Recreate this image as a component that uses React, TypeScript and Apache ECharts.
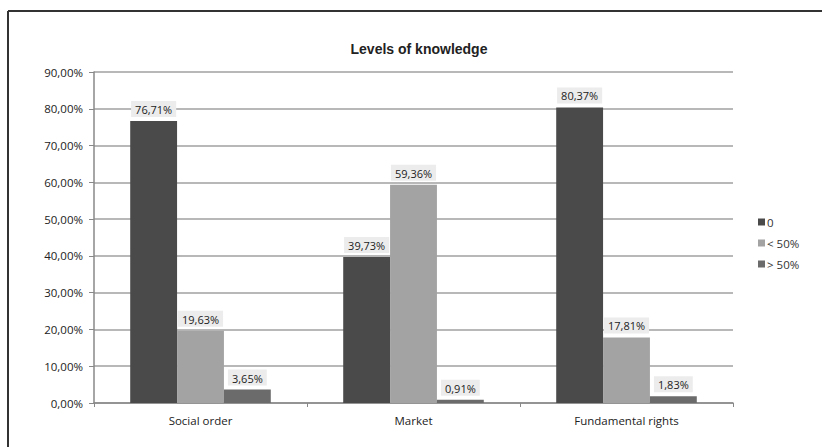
import React, { useEffect, useRef } from "react";
import * as echarts from "echarts";

const categories = ["Social order", "Market", "Fundamental rights"];
const seriesNames = ["0", "< 50%", "> 50%"];
const zeroValues = [76.71, 39.73, 80.37];
const lessHalfValues = [19.63, 59.36, 17.81];
const moreHalfValues = [3.65, 0.91, 1.83];
const colors = ["#4a4a4a", "#a3a3a3", "#6b6b6b"];

const fmt = (v: number) => v.toFixed(2).replace(".", ",") + "%";
const FONT = "Open Sans";

export default function App() {
  const ref = useRef<HTMLDivElement>(null);
  useEffect(() => {
    if (!ref.current) return;
    const chart = echarts.init(ref.current, undefined, { renderer: "svg" });
    const data = [zeroValues, lessHalfValues, moreHalfValues];
    chart.setOption({
      animation: false,
      backgroundColor: "#ffffff",
      textStyle: { fontFamily: FONT },
      title: {
        text: "Levels of knowledge",
        left: 414,
        textAlign: "center",
        top: 37,
        textStyle: { fontSize: 14, fontWeight: "bold", color: "#222", fontFamily: "Liberation Sans" },
      },
      legend: {
        orient: "vertical",
        left: 753,
        top: 211,
        itemWidth: 7,
        itemHeight: 7,
        itemGap: 9,
        icon: "rect",
        textStyle: { fontSize: 11.5, color: "#333", padding: [0, 0, 0, -3] },
        data: seriesNames,
      },
      grid: { left: 94, right: 89, top: 72, bottom: 44, containLabel: false },
      xAxis: {
        type: "category",
        data: categories,
        axisLine: { lineStyle: { color: "#888", width: 1.5 } },
        axisTick: { show: true, length: 4, lineStyle: { color: "#888" } },
        axisLabel: { fontSize: 11.5, color: "#222", margin: 11 },
      },
      yAxis: {
        type: "value",
        min: 0,
        max: 90,
        interval: 10,
        axisLine: { show: true, lineStyle: { color: "#888", width: 1.5 } },
        axisTick: { show: true, length: 5, lineStyle: { color: "#888" } },
        axisLabel: { fontSize: 11.5, color: "#222", margin: 11, formatter: (v: number) => fmt(v) },
        splitLine: { lineStyle: { color: "#a0a0a0", width: 1.5 } },
      },
      series: seriesNames.map((name, i) => ({
        name,
        type: "bar",
        data: data[i],
        barGap: "0%",
        barCategoryGap: "34%",
        itemStyle: { color: colors[i] },
        label: {
          show: true,
          position: "top",
          distance: 4,
          fontSize: 11,
          color: "#222",
          backgroundColor: "#ececec",
          padding: [3, 4, 2, 4],
          formatter: (p: any) => fmt(p.value),
        },
      })),
      graphic: [
        { type: "line", shape: { x1: 8, y1: 11, x2: 822, y2: 11 }, style: { stroke: "#333", lineWidth: 2 } },
        { type: "line", shape: { x1: 8, y1: 11, x2: 8, y2: 447 }, style: { stroke: "#333", lineWidth: 2 } },
      ],
    });
    return () => chart.dispose();
  }, []);
  return <div ref={ref} style={{ position: "fixed", left: 0, top: 0, width: 822, height: 447 }} />;
}
